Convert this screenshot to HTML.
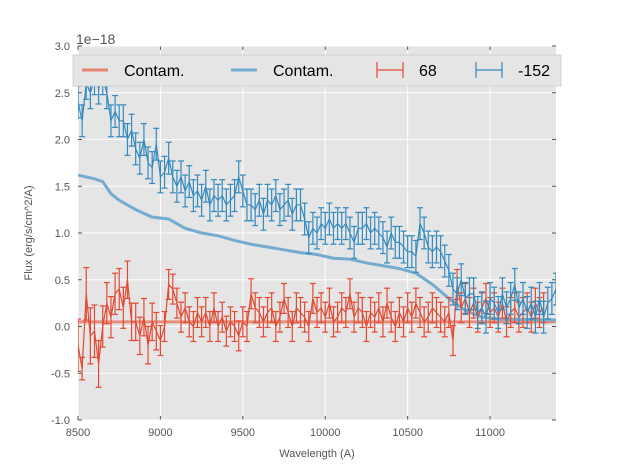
<!DOCTYPE html>
<html><head><meta charset="utf-8"><style>
body{margin:0;background:#fff;}
svg{display:block;font-family:"Liberation Sans",sans-serif;}
</style></head><body>
<svg id="c" width="617" height="467"></svg>
<script>
const xTicks=[8500,9000,9500,10000,10500,11000];
const yTicks=[-1.0,-0.5,0.0,0.5,1.0,1.5,2.0,2.5,3.0];
const waveStep=25;
const blueFlux=[2.4,2.2,2.6,2.5,2.65,2.55,2.65,2.5,2.2,2.3,2.2,2.2,2.0,2.1,1.9,1.8,2.0,1.75,1.7,1.95,1.6,1.65,1.8,1.6,1.5,1.6,1.45,1.55,1.4,1.45,1.35,1.5,1.3,1.4,1.35,1.4,1.3,1.35,1.4,1.6,1.45,1.3,1.3,1.25,1.35,1.2,1.35,1.3,1.4,1.25,1.3,1.35,1.2,1.3,1.3,1.15,0.95,1.05,1.0,1.1,1.05,1.15,1.05,1.1,1.05,1.1,1.0,0.9,1.05,1.05,1.1,1.0,1.05,1.0,0.95,0.85,1.0,0.9,0.9,0.85,0.8,0.8,0.75,1.1,1.0,0.85,0.8,0.85,0.8,0.7,0.6,0.4,0.35,0.5,0.3,0.35,0.35,0.15,0.2,0.1,0.3,0.25,0.15,0.35,0.2,0.3,0.45,0.2,0.3,0.15,0.25,0.1,0.3,0.1,0.25,0.3,0.4,0.4,0.3];
const blueErr=0.17;
const redFlux=[-0.2,-0.45,0.35,-0.1,-0.05,-0.4,0.0,0.25,0.1,0.35,0.4,0.2,0.5,0.05,0.05,-0.1,0.1,-0.2,0.05,-0.05,-0.15,0.0,0.45,0.4,0.25,0.1,0.2,0.05,0.0,0.15,0.05,0.15,0.0,0.2,0.0,0.1,-0.05,0.05,0.0,-0.1,0.05,0.0,0.35,0.2,0.15,0.05,0.15,0.2,0.0,0.1,0.3,0.15,0.0,0.2,0.15,0.1,0.0,0.3,0.15,0.2,0.1,0.25,0.05,0.1,0.2,0.15,0.35,0.1,0.2,0.15,0.0,0.15,0.1,0.2,0.05,0.25,0.1,0.0,0.15,0.05,0.2,0.1,0.25,0.15,0.05,0.1,0.2,0.15,0.1,0.05,0.15,-0.15,0.45,0.2,0.3,0.15,0.25,0.1,0.2,0.3,0.15,0.2,0.1,0.25,0.05,0.15,0.2,0.1,0.15,0.2,0.1,0.25,0.15,0.2];
const redErr=[0.28,0.12,0.28,0.3,0.28,0.25,0.22,0.22,0.22,0.22,0.22,0.22,0.2,0.2,0.2,0.2,0.2,0.2,0.2,0.2];
const blueContamX=[8500,8600,8650,8700,8750,8850,8950,9050,9150,9250,9350,9450,9550,9650,9750,9850,9950,10050,10150,10250,10350,10450,10550,10650,10750,10850,10950,11050,11400];
const blueContamY=[1.62,1.58,1.55,1.42,1.35,1.25,1.17,1.15,1.05,1.0,0.97,0.92,0.88,0.85,0.82,0.79,0.77,0.73,0.72,0.68,0.65,0.62,0.57,0.45,0.3,0.17,0.1,0.08,0.07];
const redContamX=[8500,11400];
const redContamY=[0.05,0.05];

const L=78,R=556,T=46,B=420,x0=8500,x1=11400,y0=-1,y1=3;
const sx=v=>L+(v-x0)/(x1-x0)*(R-L);
const sy=v=>B-(v-y0)/(y1-y0)*(B-T);
const svg=document.getElementById('c');
const NS='http://www.w3.org/2000/svg';
function mk(t,a,p){const e=document.createElementNS(NS,t);for(const k in a)e.setAttribute(k,a[k]);(p||svg).appendChild(e);return e;}
const defs=mk('defs',{});const cp=mk('clipPath',{id:'clip'},defs);mk('rect',{x:L,y:T,width:R-L,height:B-T},cp);
let bg=mk('rect',{x:L,y:T,width:R-L,height:B-T,fill:'#e5e5e5'});


xTicks.forEach(v=>{mk('line',{x1:sx(v),x2:sx(v),y1:T,y2:B,stroke:'#fff','stroke-width':1});
 mk('line',{x1:sx(v),x2:sx(v),y1:B,y2:B-4,stroke:'#555'});mk('line',{x1:sx(v),x2:sx(v),y1:T,y2:T+4,stroke:'#555'});
 const t=mk('text',{x:sx(v),y:B+16,'font-size':11,fill:'#555','text-anchor':'middle'});t.textContent=v;
 
 });
yTicks.forEach(v=>{mk('line',{x1:L,x2:R,y1:sy(v),y2:sy(v),stroke:'#fff','stroke-width':1});
 mk('line',{x1:L,x2:L+4,y1:sy(v),y2:sy(v),stroke:'#555'});mk('line',{x1:R-4,x2:R,y1:sy(v),y2:sy(v),stroke:'#555'});
 const t=mk('text',{x:L-8,y:sy(v)+4,'font-size':11,fill:'#555','text-anchor':'end'});t.textContent=v.toFixed(1);
 
 });
const plot=mk('g',{'clip-path':'url(#clip)'});
function line(xs,ys,col,w,op,name){const d=xs.map((x,i)=>(i?'L':'M')+sx(x)+','+sy(ys[i])).join('');
 const p=mk('path',{d:d,fill:'none',stroke:col,'stroke-width':w,opacity:op},plot);
 
 }
function series(ys,err,col,name){const xs=ys.map((_,i)=>x0+i*waveStep);
 const g=mk('g',{stroke:col,'stroke-width':1.2,fill:'none'},plot);
 
 
 ys.forEach((y,i)=>{const e=Array.isArray(err)?(err[i]!==undefined?err[i]:0.16):err;const X=sx(xs[i]);
  mk('line',{x1:X,x2:X,y1:sy(y-e),y2:sy(y+e)},g);mk('line',{x1:X-3,x2:X+3,y1:sy(y-e),y2:sy(y-e)},g);mk('line',{x1:X-3,x2:X+3,y1:sy(y+e),y2:sy(y+e)},g);});
 mk('path',{d:xs.map((x,i)=>(i?'L':'M')+sx(x)+','+sy(ys[i])).join('')},g);}
line(redContamX,redContamY,'#e5836f',3,0.9,'contam-line-red');
line(blueContamX,blueContamY,'#74acd0',3,1,'contam-line-blue');
series(redFlux,redErr,'#e24a33','series-68');
series(blueFlux,blueErr,'#348abd','series-minus-152');
let lg=mk('g',{});
mk('rect',{x:73,y:55,width:488,height:31,fill:'#e5e5e5',stroke:'#ccc','stroke-width':0.8},lg);
mk('line',{x1:82,x2:108,y1:70,y2:70,stroke:'#e5836f','stroke-width':3},lg);
mk('line',{x1:231,x2:257,y1:70,y2:70,stroke:'#74acd0','stroke-width':3},lg);
[[377,403,'#e24a33'],[476,502,'#348abd']].forEach(a=>{mk('line',{x1:a[0],x2:a[1],y1:70,y2:70,stroke:a[2],'stroke-width':1.2},lg);
 mk('line',{x1:a[0],x2:a[0],y1:62,y2:78,stroke:a[2],'stroke-width':1.2},lg);mk('line',{x1:a[1],x2:a[1],y1:62,y2:78,stroke:a[2],'stroke-width':1.2},lg);});
[[124,'Contam.'],[273,'Contam.'],[419,'68'],[518,'-152']].forEach(a=>{const t=mk('text',{x:a[0],y:76,'font-size':16,fill:'#000'},lg);t.textContent=a[1];
 
 });
let t1=mk('text',{x:76,y:44,'font-size':14,fill:'#555'});t1.textContent='1e\u221218';

let xl=mk('text',{x:317,y:457,'font-size':11,fill:'#555','text-anchor':'middle'});xl.textContent='Wavelength (A)';

let yl=mk('text',{x:0,y:0,'font-size':11,fill:'#555','text-anchor':'middle',transform:'translate(32,233) rotate(-90)'});yl.textContent='Flux (erg/s/cm^2/A)';

</script>
</body></html>
